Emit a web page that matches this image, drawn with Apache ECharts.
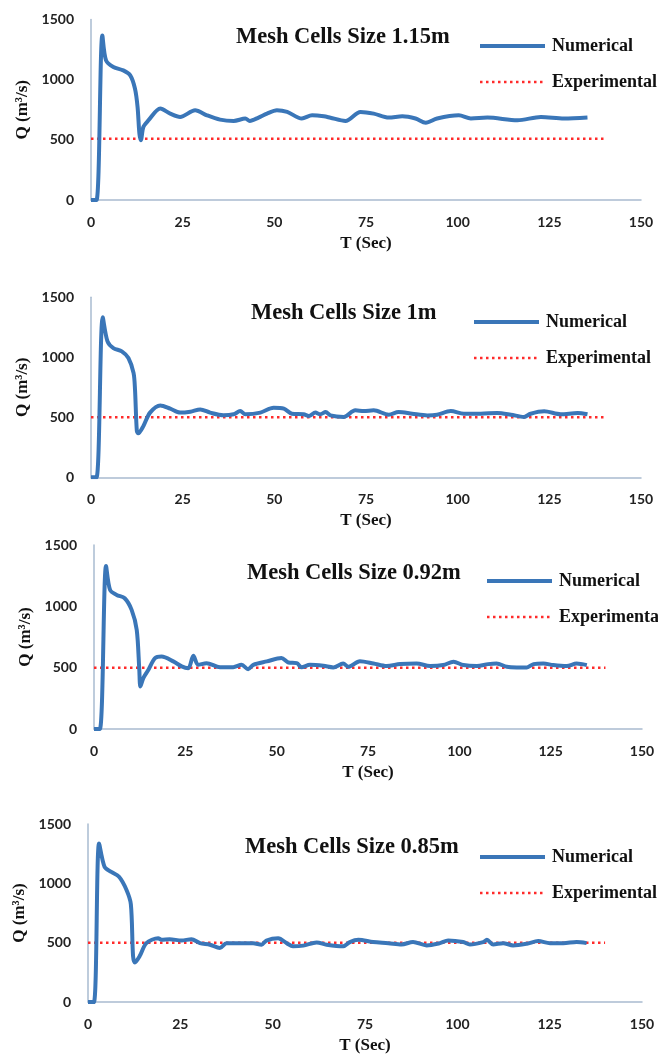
<!DOCTYPE html>
<html>
<head>
<meta charset="utf-8">
<script src="https://cdn.jsdelivr.net/npm/echarts@6/dist/echarts.min.js"></script>
<style>
html,body{margin:0;padding:0;background:#fff;}
#chart{width:658px;height:1055px;}
</style>
</head>
<body>
<div id="chart"></div>
<script>
// ---- data ----
var panelTitles = ['Mesh Cells Size 1.15m', 'Mesh Cells Size 1m', 'Mesh Cells Size 0.92m', 'Mesh Cells Size 0.85m'];
var xTicks = [0, 25, 50, 75, 100, 125, 150];
var yTicks = [0, 500, 1000, 1500];

var t1 = [0, 1.5, 3.1, 4.1, 6.1, 8.8, 10.7, 12, 12.7, 13.2, 13.6, 14.3, 15.7, 18.9, 21.6, 24.3, 28.4, 31.6, 35.2, 38.9, 42.1, 43.3, 45.7, 48, 50.7, 53.5, 57.5, 60.3, 63.5, 65.3, 69.4, 73.5, 77.1, 81.2, 84.9, 88.5, 91.3, 94.4, 100.3, 103.6, 108.1, 116.3, 122.7, 129, 135.4];
var q1 = [0, 0, 1367, 1160, 1105, 1077, 1036, 925, 773, 552, 497, 608, 663, 760, 718, 690, 746, 704, 668, 657, 677, 657, 685, 718, 746, 732, 677, 704, 696, 684, 657, 732, 718, 685, 696, 677, 641, 677, 704, 677, 685, 663, 690, 677, 685];

var t2 = [0, 1.5, 3.2, 4.5, 6.1, 8.4, 10.2, 11.6, 12.0, 12.5, 12.9, 14.3, 16.1, 18.9, 21.6, 24.3, 27.1, 29.8, 32.5, 36.1, 38.9, 40.7, 42.1, 46.2, 49.8, 52.6, 54.8, 58, 59.4, 61.2, 62.5, 64, 65.3, 68.9, 72.1, 74.4, 77.1, 81.2, 83.9, 87.6, 91.7, 94.4, 98.1, 101.7, 106.3, 110.8, 114.5, 118.1, 119.9, 123.6, 128.1, 132.7, 135.4];
var q2 = [0, 0, 1334, 1132, 1077, 1050, 994, 870, 732, 387, 367, 428, 539, 599, 572, 539, 547, 566, 539, 517, 525, 552, 525, 539, 580, 572, 530, 525, 511, 539, 525, 544, 516, 503, 558, 552, 558, 522, 544, 530, 516, 522, 552, 530, 530, 536, 522, 503, 530, 550, 525, 536, 525];

var t3 = [0, 1.6, 3.3, 4.4, 6.2, 8.4, 10.3, 11.7, 12.4, 12.7, 13.5, 14.9, 16.7, 18.5, 21.7, 24, 25.8, 27.2, 28.5, 30.8, 34.5, 38.1, 40.4, 42.2, 43.6, 47.3, 51.3, 53.2, 55.5, 56.8, 59.1, 62.8, 65.5, 68.2, 69.6, 72.8, 76.5, 80.1, 83.8, 88.3, 92, 95.6, 98.4, 101.1, 104.8, 107.9, 110.2, 113, 115.7, 118.5, 120.3, 123, 125.7, 129.4, 132.1, 134.9];
var q3 = [0, 0, 1329, 1134, 1093, 1066, 971, 808, 483, 347, 415, 483, 578, 591, 551, 510, 496, 597, 523, 537, 504, 504, 523, 488, 523, 551, 578, 542, 537, 504, 523, 515, 502, 534, 507, 553, 534, 513, 529, 534, 513, 521, 548, 521, 513, 529, 534, 507, 502, 502, 529, 534, 521, 513, 534, 521];

var t4 = [0, 1.6, 3, 4.5, 6.3, 8.4, 10.4, 11.6, 12.2, 12.7, 14, 15.8, 19, 19.9, 22.1, 25.3, 28, 30.3, 33, 35.7, 37.5, 41.1, 44.7, 47, 48.3, 51.5, 53.8, 55.5, 58.3, 61.9, 64.6, 69.1, 70.9, 73.2, 77.2, 81.3, 84.9, 88, 91.7, 95.3, 97.5, 101.6, 103.4, 107, 108, 109.7, 112.4, 115.1, 118.8, 121.9, 125.1, 128.7, 132.3, 135];
var q4 = [0, 0, 1336, 1137, 1096, 1055, 946, 824, 387, 333, 387, 496, 537, 524, 529, 518, 529, 496, 483, 455, 496, 496, 496, 483, 518, 537, 496, 469, 475, 502, 483, 469, 505, 524, 505, 496, 485, 505, 477, 496, 518, 505, 485, 505, 524, 485, 496, 477, 491, 513, 496, 496, 505, 496];

var expT = [0, 140];
var expQ = [510, 500, 500, 500];

// ---- layout ----
var grids = [
  {left: 91, top: 19.5, width: 550, height: 180.5},
  {left: 91, top: 297.3, width: 550, height: 180},
  {left: 94, top: 545, width: 548, height: 184},
  {left: 88, top: 824, width: 554, height: 183}
];
var titlePos = [[236, 26], [251, 302], [247, 562], [245, 836]];
var legendPos = [[478, 37], [472, 313], [485, 572], [478, 848]];
var yNameGap = [57, 59, 57, 56];

var numT = [t1, t2, t3, t4];
var numQ = [q1, q2, q3, q4];

function pairs(xs, ys) { return xs.map(function (x, i) { return [x, ys[i]]; }); }

var serif = "'Liberation Serif', 'Times New Roman', serif";
var sans = "Lato, 'Liberation Sans', sans-serif";
var axisColor = '#a9bbd0';
var blue = '#3a76b8';
var red = '#ff2a2a';

var option = {
  animation: false,
  backgroundColor: '#ffffff',
  title: [], legend: [], grid: [], xAxis: [], yAxis: [], series: []
};

for (var i = 0; i < 4; i++) {
  option.grid.push(grids[i]);
  option.title.push({
    text: panelTitles[i], left: titlePos[i][0], top: titlePos[i][1], padding: 0,
    textStyle: {fontFamily: serif, fontWeight: 'bold', fontSize: 22.5, color: '#111'}
  });
  option.legend.push({
    orient: 'vertical', left: legendPos[i][0], top: legendPos[i][1], padding: 0,
    itemWidth: 65, itemHeight: 14, itemGap: 18,
    data: ['Numerical', 'Experimental'],
    selectedMode: false,
    itemStyle: {opacity: 0},
    lineStyle: {width: 'inherit'},
    textStyle: {fontFamily: serif, fontWeight: 'bold', fontSize: 18, color: '#111', padding: [0, 0, 0, 2]}
  });
  option.xAxis.push({
    type: 'value', gridIndex: i, min: xTicks[0], max: xTicks[xTicks.length - 1], interval: 25,
    name: 'T (Sec)', nameLocation: 'middle', nameGap: 35,
    nameTextStyle: {fontFamily: serif, fontWeight: 'bold', fontSize: 17, color: '#111'},
    axisLine: {show: true, onZero: false, lineStyle: {color: axisColor, width: 1.5}},
    axisTick: {show: false},
    splitLine: {show: false},
    axisLabel: {margin: 15, fontFamily: sans, fontWeight: 'bold', fontSize: 14, color: '#222'}
  });
  option.yAxis.push({
    type: 'value', gridIndex: i, min: yTicks[0], max: yTicks[yTicks.length - 1], interval: 500,
    name: 'Q (m³/s)', nameLocation: 'middle', nameGap: yNameGap[i], nameRotate: 90,
    nameTextStyle: {fontFamily: serif, fontWeight: 'bold', fontSize: 17, color: '#111'},
    axisLine: {show: true, lineStyle: {color: axisColor, width: 1.5}},
    axisTick: {show: false},
    splitLine: {show: false},
    axisLabel: {margin: 17, fontFamily: sans, fontWeight: 'bold', fontSize: 14, color: '#222',
      formatter: function (v) { return String(v); }}
  });
  option.series.push({
    name: 'Numerical', type: 'line', xAxisIndex: i, yAxisIndex: i,
    data: pairs(numT[i], numQ[i]), showSymbol: false, symbol: 'none', smooth: 0.3,
    lineStyle: {color: blue, width: 4}, itemStyle: {color: blue}, z: 3
  });
  option.series.push({
    name: 'Experimental', type: 'line', xAxisIndex: i, yAxisIndex: i,
    data: pairs(expT, [expQ[i], expQ[i]]), showSymbol: false, symbol: 'none',
    lineStyle: {color: red, width: 2.5, type: [2.5, 3.5]}, itemStyle: {color: red}, z: 2
  });
}

var chart = echarts.init(document.getElementById('chart'), null, {renderer: 'canvas'});
chart.setOption(option);
</script>
</body>
</html>
